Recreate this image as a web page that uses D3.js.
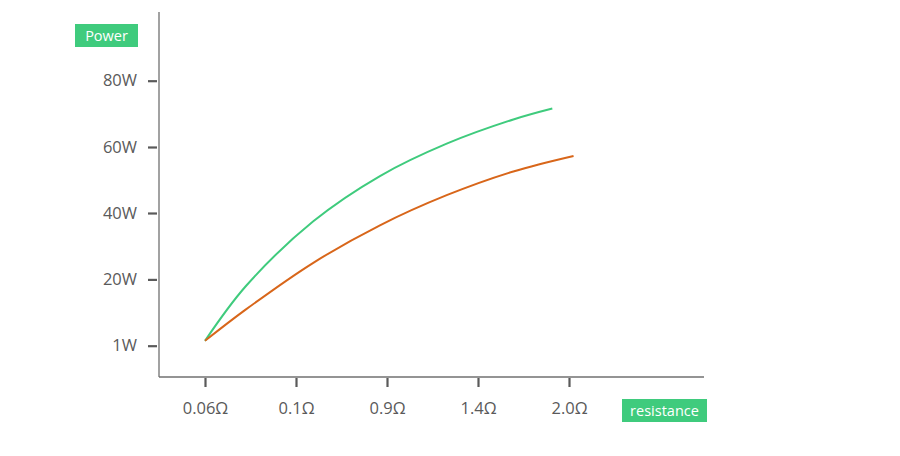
<!DOCTYPE html>
<html><head><meta charset="utf-8">
<script src="https://cdn.jsdelivr.net/npm/d3@7"></script>
<style>
html,body{margin:0;padding:0;background:#fff;}
svg{display:block;font-family:"Open Sans","Segoe UI",sans-serif;}
</style></head>
<body><svg id="chart" width="900" height="456"></svg>
<script>
// ---- data ----
const xTickValues = [0.06, 0.1, 0.9, 1.4, 2.0];
const xTickLabels = ["0.06Ω", "0.1Ω", "0.9Ω", "1.4Ω", "2.0Ω"];
const yTickValues = [1, 20, 40, 60, 80];
const yTickLabels = ["1W", "20W", "40W", "60W", "80W"];
const greenR = [0.06, 0.078, 0.252, 0.838, 1.228, 1.633, 1.89];
const greenW = [2.4, 18.1, 37.5, 51.2, 61.0, 68.3, 71.6];
const orangeR = [0.06, 0.078, 0.252, 0.838, 1.228, 1.633, 2.03];
const orangeW = [2.4, 11.4, 25.0, 36.3, 45.4, 52.6, 57.3];
const yTitle = "Power";
const xTitle = "resistance";

const svg = d3.select("#chart");
const GREEN = "#3fcb7d", ORANGE = "#d8661a", AXIS = "#707070", TXT = "#5a5a5a";
const FONT = "'Open Sans',sans-serif";

const x = d3.scaleLinear().domain(xTickValues).range([205, 296, 387, 478, 569]);
const y = d3.scaleLinear().domain(yTickValues).range([345.7, 279.4, 213, 147, 80.7]);

// axes lines
svg.append("line").attr("x1",159).attr("x2",159).attr("y1",12).attr("y2",377)
  .attr("stroke",AXIS).attr("stroke-width",1.3);
svg.append("line").attr("x1",159).attr("x2",704).attr("y1",377).attr("y2",377)
  .attr("stroke",AXIS).attr("stroke-width",1.3);

// y axis ticks
const yAxis = d3.axisLeft(y).tickValues(yTickValues)
  .tickFormat((d,i)=>yTickLabels[i]).tickSize(9).tickPadding(11);
const gy = svg.append("g").attr("transform","translate(157,0)").call(yAxis);
gy.select(".domain").remove();
gy.selectAll(".tick line").attr("stroke","#5a5a5a").attr("stroke-width",2.2);
gy.selectAll(".tick text").attr("fill",TXT).style("font-size","16.5px").style("font-family",FONT);

// x axis ticks
const xAxis = d3.axisBottom(x).tickValues(xTickValues)
  .tickFormat((d,i)=>xTickLabels[i]).tickSize(9).tickPadding(15);
const gx = svg.append("g").attr("transform","translate(0,378)").call(xAxis);
gx.select(".domain").remove();
gx.selectAll(".tick line").attr("stroke","#5a5a5a").attr("stroke-width",2.2);
gx.selectAll(".tick text").attr("fill",TXT).style("font-size","16.5px").style("font-family",FONT);

// lines
const line = d3.line().x(d=>x(d[0])).y(d=>y(d[1])).curve(d3.curveCatmullRom.alpha(0.5));
svg.append("path").datum(greenR.map((r,i)=>[r,greenW[i]]))
  .attr("d",line).attr("fill","none").attr("stroke",GREEN).attr("stroke-width",2);
svg.append("path").datum(orangeR.map((r,i)=>[r,orangeW[i]]))
  .attr("d",line).attr("fill","none").attr("stroke",ORANGE).attr("stroke-width",2);

// title boxes
function badge(x0,y0,w,h,text){
  svg.append("rect").attr("x",x0).attr("y",y0).attr("width",w).attr("height",h).attr("fill",GREEN);
  svg.append("text").attr("x",x0+w/2).attr("y",y0+h/2).attr("dy","0.35em")
    .attr("text-anchor","middle").attr("fill","#fff").style("font-size","14.5px")
    .style("font-family",FONT).text(text);
}
badge(75,24,63,23,yTitle);
badge(622,399,85,23,xTitle);
</script></body></html>
